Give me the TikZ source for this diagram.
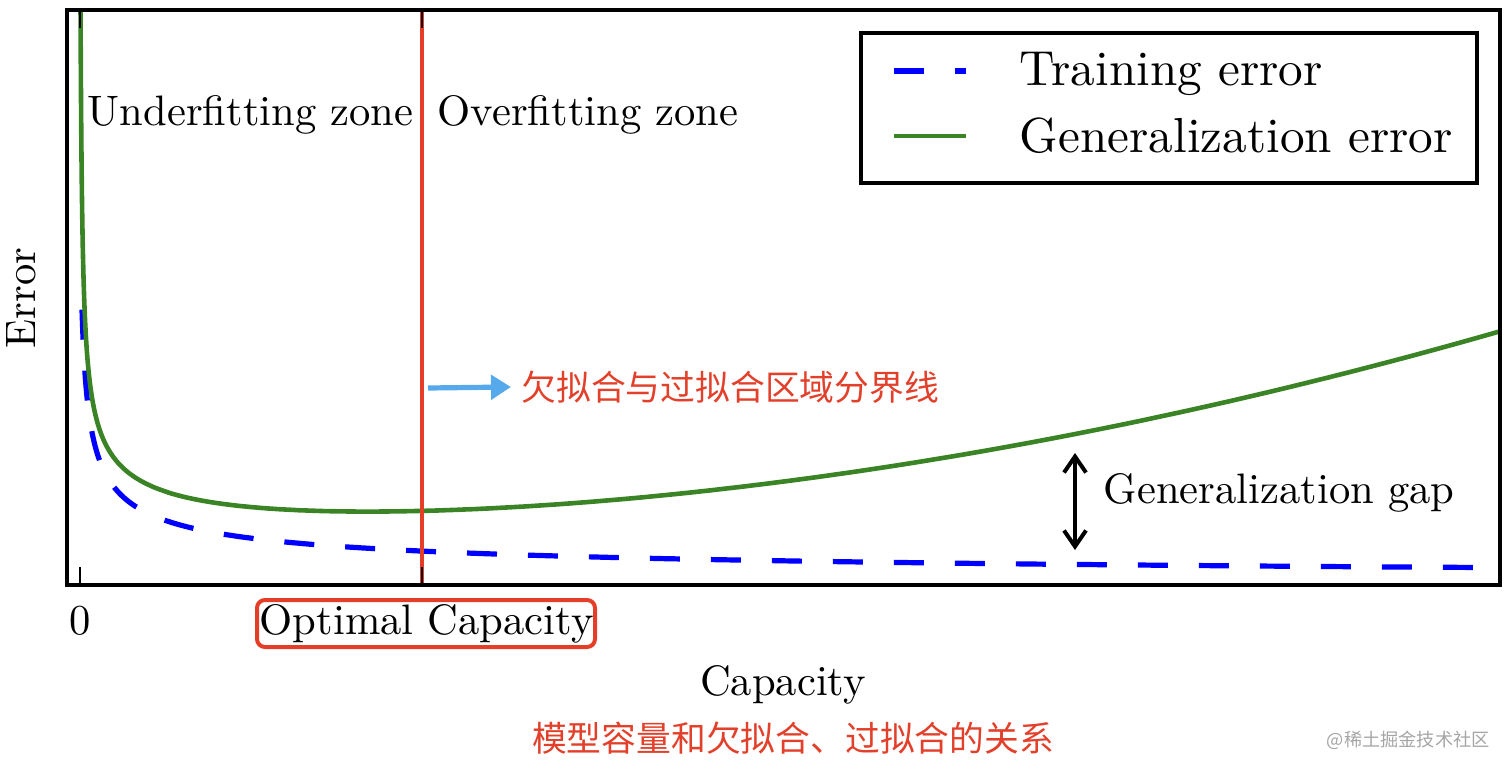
\documentclass[tikz,border=0pt]{standalone}
\usepackage{fontspec}
\newfontfamily\cjk{Noto Sans CJK SC}
\usetikzlibrary{arrows.meta}
\definecolor{plotblue}{RGB}{0,0,255}
\definecolor{plotgreen}{RGB}{58,132,38}
\definecolor{redline}{RGB}{229,62,40}
\definecolor{redtext}{RGB}{226,64,42}
\definecolor{skyarrow}{RGB}{86,170,235}
\definecolor{wmgray}{RGB}{165,165,165}
\begin{document}
\begin{tikzpicture}[x=0.5pt,y=-0.5pt,
  lbl/.style={inner sep=0pt, scale=2.13},
  leglbl/.style={inner sep=0pt, scale=2.46},
  cn/.style={inner sep=0pt, font=\cjk\fontsize{17.4pt}{20pt}\selectfont, text=redtext},
  frameline/.style={line width=2.2pt},
  tickline/.style={line width=1pt},
  trainline/.style={plotblue, line width=2.6pt, dash pattern=on 15pt off 15.5pt},
  genline/.style={plotgreen, line width=2.3pt},
  boundary/.style={redline, line width=2pt},
  gaparrow/.style={line width=2pt, {Straight Barb[length=8pt,width=11pt]}-{Straight Barb[length=8pt,width=11pt]}},
  notearrow/.style={skyarrow, line width=2.6pt, -{Triangle[length=10pt,width=12pt]}},
]
\useasboundingbox (0,0) rectangle (1512,771);

% curves
\begin{scope}
  \clip (67,10) rectangle (1500,585);
  \draw[trainline] plot[domain=1.386:7.26, samples=300]
    ({78+exp(\x)}, {585-528*exp(-0.47*\x)});
  \draw[genline] plot[domain=0.83:7.26, samples=400]
    ({78+exp(\x)}, {585-528*exp(-0.47*\x)-28-1.03*(exp(\x)/100)^2-1312*exp(-2*\x)});
\end{scope}

% boundary line
\draw[boundary] (422,10) -- (422,585);

% ticks
\draw[tickline] (80,585) -- (80,567);
\draw[tickline] (80,10) -- (80,28);
\draw[tickline] (422,585) -- (422,567);
\draw[tickline] (422,10) -- (422,28);

% frame
\draw[frameline] (67,10) rectangle (1500,585);

% legend
\draw[line width=2pt, fill=white] (861,33) rectangle (1477,183);
\draw[trainline] (894,71) -- (966,71);
\draw[genline] (894,136) -- (966,136);
\node[leglbl, anchor=base west] (lt) at (1019,85) {Training error};
\node[leglbl, anchor=base west] (lg) at (1019,152) {Generalization error};

% zone labels
\node[lbl, anchor=base west] (uz) at (87,126) {Underfitting zone};
\node[lbl, anchor=base west] (oz) at (437,126) {Overfitting zone};

% axis labels
\node[lbl, anchor=base] (zero) at (80,634) {0};
\node[lbl, anchor=base west] (opt) at (259,634) {Optimal Capacity};
\draw[boundary, rounded corners=4pt] (257,600) rectangle (595,647);
\node[lbl, anchor=base] (xl) at (783,695) {Capacity};
\node[lbl, rotate=90] (yl) at (21,298) {Error};

% generalization gap
\coordinate (gtop) at (1075,453);
\coordinate (gbot) at (1075,550);
\draw[gaparrow] (gtop) -- (gbot);
\node[lbl, anchor=base west] (gg) at (1103,503) {Generalization gap};

% Chinese annotations
\node[cn, anchor=west] (bd) at (521,387) {欠拟合与过拟合区域分界线};
\coordinate (atail) at (428,388);
\draw[notearrow] (atail) -- ([xshift=-5pt]bd.west);
\node[cn] (cap) at (793,738) {模型容量和欠拟合、过拟合的关系};
\node[inner sep=0pt, font=\cjk\fontsize{9.1pt}{11pt}\selectfont, text=wmgray, anchor=east] (wm) at (1490,740) {@稀土掘金技术社区};
\end{tikzpicture}
\end{document}
